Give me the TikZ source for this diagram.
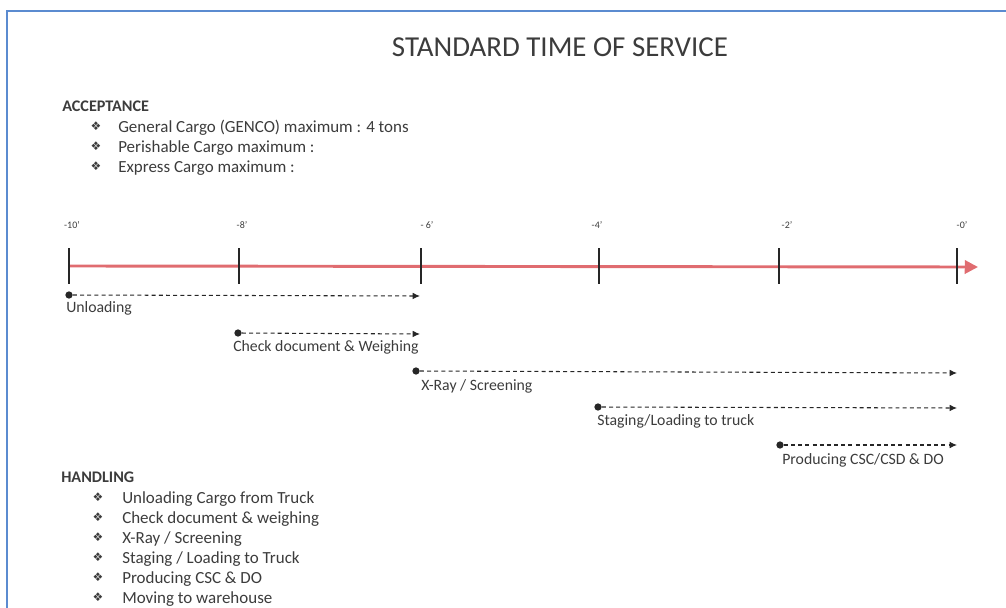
\documentclass[tikz,border=0pt]{standalone}
\usepackage{fontspec}
\setmainfont{Carlito}
\newfontfamily\symfont{DejaVu Sans}
\usetikzlibrary{positioning,arrows.meta}
\definecolor{frameblue}{HTML}{5B8BD0}
\definecolor{inkgray}{HTML}{3C3C3C}
\definecolor{axisred}{HTML}{E06C70}
\tikzset{x=0.0265cm,y=-0.0265cm,
    every node/.style={inner sep=0pt,text=inkgray},
    title/.style={anchor=base,font=\fontsize{21.8}{24}\selectfont},
    heading/.style={anchor=base west,font=\fontsize{12.2}{14}\selectfont\bfseries},
    item/.style={anchor=base west,font=\fontsize{12.8}{15}\selectfont},
    bullet/.style={anchor=base,font=\symfont\fontsize{9}{10}\selectfont},
    tick/.style={line width=1.5pt,black!85},
    ticklabel/.style={anchor=base,font=\fontsize{7.5}{8}\selectfont},
    dot/.style={circle,fill=black!85,minimum size=5.5pt},
    task/.style={dash pattern=on 3pt off 2.4pt,line width=0.8pt,black!85,
        -{Latex[length=5.5pt,width=5pt]}},
    tasklabel/.style={anchor=base west,font=\fontsize{11.9}{14}\selectfont},
    }

\begin{document}
\begin{tikzpicture}
\useasboundingbox (0,0) rectangle (1006,608);
\draw[frameblue,line width=1.5pt] (7,650) |- (1040,11);
\node[title] (title) at (560,57) {STANDARD TIME OF SERVICE};
% acceptance
\node[heading] (acc) at (62,112) {ACCEPTANCE};
\node[bullet] (ab1) at (96,131) {❖};
\node[item] (a1) at (118,133) {General Cargo (GENCO) maximum : 4 tons};
\node[bullet] (ab2) at (96,151) {❖};
\node[item] (a2) at (118,153) {Perishable Cargo maximum :};
\node[bullet] (ab3) at (96,171) {❖};
\node[item] (a3) at (118,173) {Express Cargo maximum :};
% time axis
\coordinate (m10) at (69,266);
\coordinate (m8) at (239,266);
\coordinate (m6) at (421,266);
\coordinate (m4) at (599,266);
\coordinate (m2) at (779,266);
\coordinate (m0) at (957,266);
\coordinate (axisend) at (978,267);
\draw[axisred,line width=2.2pt,-{Triangle[length=10pt,width=10pt]}] (m10) -- (axisend);
\foreach \m in {m10,m8,m6,m4,m2,m0}
    \draw[tick] ([yshift=0.47cm]\m) -- ([yshift=-0.47cm]\m);
\node[ticklabel] (l10) at (72,229) {-10'};
\node[ticklabel] (l8) at (242,229) {-8'};
\node[ticklabel] (l6) at (427,229) {- 6'};
\node[ticklabel] (l4) at (597,229) {-4'};
\node[ticklabel] (l2) at (787,229) {-2'};
\node[ticklabel] (l0) at (962,229) {-0'};
% tasks
\node[dot] (u0) at (69,295) {};
\coordinate (u1) at (420,296);
\draw[task] (u0) -- (u1);
\node[tasklabel] (uL) at (66,312) {Unloading};
\node[dot] (c0) at (238,333) {};
\coordinate (c1) at (420,334);
\draw[task] (c0) -- (c1);
\node[tasklabel] (cL) at (233,351) {Check document \& Weighing};
\node[dot] (x0) at (416,371) {};
\coordinate (x1) at (957,373);
\draw[task] (x0) -- (x1);
\node[tasklabel] (xL) at (421,390) {X-Ray / Screening};
\node[dot] (s0) at (598,407) {};
\coordinate (s1) at (957,408);
\draw[task] (s0) -- (s1);
\node[tasklabel] (sL) at (597,425) {Staging/Loading to truck};
\node[dot] (p0) at (780,445) {};
\coordinate (p1) at (957,445);
\draw[task] (p0) -- (p1);
\node[tasklabel] (pL) at (782,464) {Producing CSC/CSD \& DO};
% handling
\node[heading] (hand) at (61,482) {HANDLING};
\node[bullet] (hb1) at (98,501) {❖};
\node[item] (h1) at (122,503) {Unloading Cargo from Truck};
\node[bullet] (hb2) at (98,521) {❖};
\node[item] (h2) at (122,523) {Check document \& weighing};
\node[bullet] (hb3) at (98,541) {❖};
\node[item] (h3) at (122,543) {X-Ray / Screening};
\node[bullet] (hb4) at (98,561) {❖};
\node[item] (h4) at (122,563) {Staging / Loading to Truck};
\node[bullet] (hb5) at (98,581) {❖};
\node[item] (h5) at (122,583) {Producing CSC \& DO};
\node[bullet] (hb6) at (98,601) {❖};
\node[item] (h6) at (122,603) {Moving to warehouse};
\end{tikzpicture}
\end{document}
